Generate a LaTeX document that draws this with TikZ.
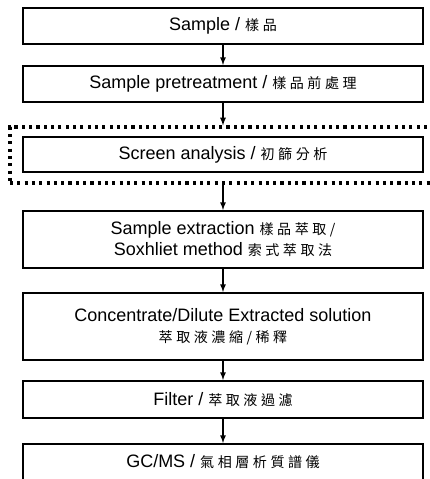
\documentclass[tikz,border=0pt]{standalone}
\usepackage{fontspec}
\setmainfont{Liberation Sans}
\newfontfamily\cjk[LetterSpace=25]{Noto Sans CJK TC}
\usepackage{tikz}

\begin{document}
\begin{tikzpicture}
        \tikzstyle{every node} = [rectangle, align=center, font=\fontsize{12.8}{15}\selectfont]
        \tikzstyle{stage} = [draw, line width=1.3pt, minimum width=10cm, inner sep=0pt]
        \newcommand{\zh}[1]{{\cjk\fontsize{10}{15}\selectfont #1}}
        \clip (0,0) rectangle (10.75,-11.975);
        \node[stage, minimum height=0.9cm] (1) at (5.575,-0.65) {Sample / \zh{樣品}};
        \node[stage, minimum height=0.9cm] (2) at (5.575,-2.1) {Sample pretreatment / \zh{樣品前處理}};
        \node[stage, minimum height=0.875cm] (3) at (5.575,-3.8625) {Screen analysis / \zh{初篩分析}};
        \node[draw, line width=2.2pt, dash pattern=on 2.2pt off 3pt, minimum width=11cm, minimum height=1.4cm] (d) at (5.75,-3.875) {};
        \node[stage, minimum height=1.425cm] (4) at (5.575,-5.9875) {Sample extraction \zh{樣品萃取/}\\Soxhliet method \zh{索式萃取法}};
        \node[stage, minimum height=1.675cm] (5) at (5.575,-8.1625) {Concentrate/Dilute Extracted solution\\\zh{萃取液濃縮/稀釋}};
        \node[stage, minimum height=0.925cm] (6) at (5.575,-9.9875) {Filter / \zh{萃取液過濾}};
        \node[stage, minimum height=0.9cm] (7) at (5.575,-11.55) {GC/MS / \zh{氣相層析質譜儀}};

				\draw[-latex, line width=0.9pt] (1) -- (2);
				\draw[-latex, line width=0.9pt] (2) -- (2 |- d.north);
				\draw[-latex, line width=0.9pt] (3 |- d.south) -- (4);
				\draw[-latex, line width=0.9pt] (4) -- (5);
				\draw[-latex, line width=0.9pt] (5) -- (6);
				\draw[-latex, line width=0.9pt] (6) -- (7);
    	\end{tikzpicture}
\end{document}
